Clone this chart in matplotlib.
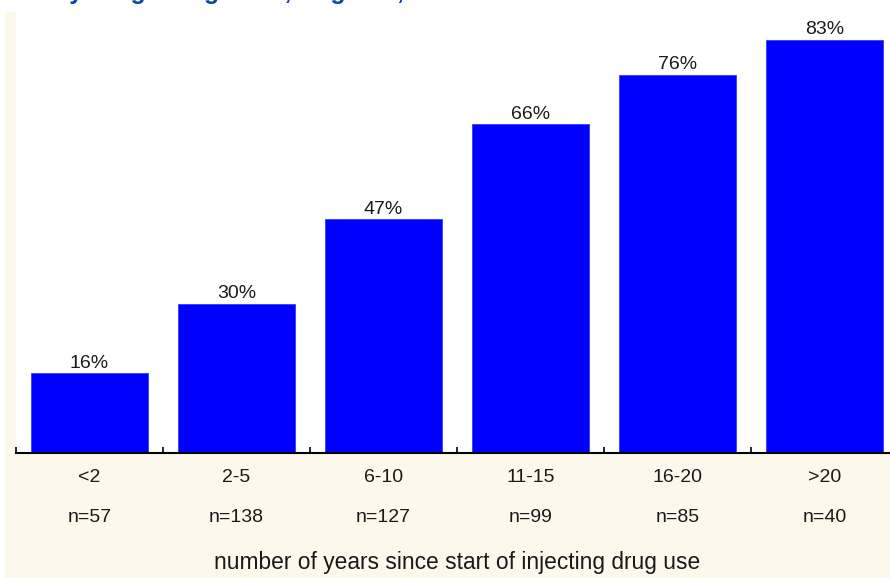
import matplotlib.pyplot as plt
from matplotlib.patches import Rectangle
from matplotlib.transforms import blended_transform_factory

plt.rcParams['font.family'] = ['Liberation Sans', 'DejaVu Sans']

# anni dall'inizio dell'uso di droghe iniettive
gruppi = ['<2', '2-5', '6-10', '11-15', '16-20', '>20']
numerosita = [57, 138, 127, 99, 85, 40]
percentuali = [16, 30, 47, 66, 76, 83]

W, H = 890, 578
fig = plt.figure(figsize=(W / 100, H / 100), dpi=100)
fig.patch.set_facecolor('white')

# sfondo crema dietro il grafico
fig.patches.append(Rectangle((5 / W, 0), 1 - 5 / W, 1 - 12 / H,
                             transform=fig.transFigure, facecolor='#FDF8EC',
                             edgecolor='none', zorder=-10))

# titolo (tagliato in alto)
fig.text(54 / W, 1 + 0.5 / H, 'by drug using state, England, 2006',
         color='#0D47A1', fontsize=18, fontweight='bold', va='baseline', ha='left')

ax = fig.add_axes([16 / W, 1 - 453 / H, 882 / W, 441 / H])
ax.set_facecolor('white')

x = list(range(len(gruppi)))
ax.bar(x, percentuali, width=0.8, color='#0000FF', edgecolor='#3A3AFF', linewidth=0.6, zorder=2)

for xi, p in zip(x, percentuali):
    ax.annotate(f'{p}%', (xi, p), xytext=(0, 1), textcoords='offset points',
                ha='center', va='bottom', fontsize=14, color='#1a1a1a')

ax.set_xlim(-0.5, len(gruppi) - 0.5)
ax.set_ylim(0, 88.6)

for s in ['left', 'right', 'top']:
    ax.spines[s].set_visible(False)
ax.spines['bottom'].set_linewidth(1.5)
ax.set_yticks([])

ax.set_xticks(x)
ax.set_xticklabels(gruppi, fontsize=14, color='#1a1a1a')
ax.tick_params(axis='x', which='major', length=0, pad=11.5)
ax.set_xticks([i - 0.5 for i in range(len(gruppi) + 1)], minor=True)
ax.tick_params(axis='x', which='minor', direction='in', length=4, width=1.2)

trans = blended_transform_factory(ax.transData, fig.transFigure)
for xi, n in zip(x, numerosita):
    ax.text(xi, 1 - 518 / H, f'n={n}', transform=trans, ha='center', va='center',
            fontsize=14, color='#1a1a1a')

ax.set_xlabel('number of years since start of injecting drug use', fontsize=16.4,
              color='#1a1a1a', labelpad=0)
ax.xaxis.set_label_coords(0.5, -(563 - 453) / 441)
ax.xaxis.label.set_va('center')

fig.savefig('out.png', dpi=100, facecolor=fig.get_facecolor())
